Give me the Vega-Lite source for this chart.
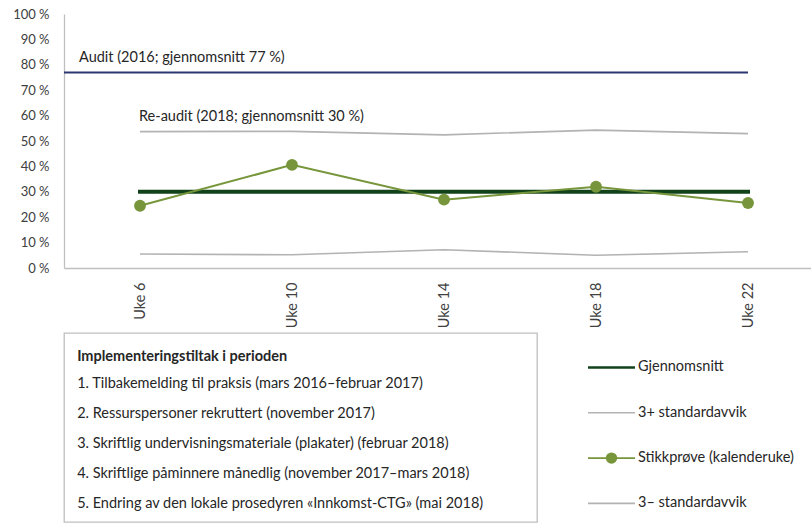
{
  "$schema": "https://vega.github.io/schema/vega-lite/v6.json",
  "padding": {"left": 12, "top": 8, "right": 0, "bottom": 0},
  "spacing": 4,
  "config": {
    "font": "Lato",
    "view": {"stroke": null},
    "axis": {"labelFont": "Lato", "labelFontSize": 13, "labelColor": "#404040", "domainColor": "#bfbfbf", "domainWidth": 1.3, "ticks": false, "tickSize": 0, "grid": false, "title": null},
    "text": {"font": "Lato", "fontSize": 14.5, "color": "#262626"}
  },
  "datasets": {
    "serier": [
      {"serie": "Audit", "uke": 4, "verdi": 77},
      {"serie": "Audit", "uke": 22, "verdi": 77},
      {"serie": "Gjennomsnitt", "uke": 6, "verdi": 30},
      {"serie": "Gjennomsnitt", "uke": 22, "verdi": 30},
      {"serie": "3+ standardavvik", "uke": 6, "verdi": 53.7},
      {"serie": "3+ standardavvik", "uke": 10, "verdi": 53.8},
      {"serie": "3+ standardavvik", "uke": 14, "verdi": 52.4},
      {"serie": "3+ standardavvik", "uke": 18, "verdi": 54.3},
      {"serie": "3+ standardavvik", "uke": 22, "verdi": 52.9},
      {"serie": "3– standardavvik", "uke": 6, "verdi": 5.5},
      {"serie": "3– standardavvik", "uke": 10, "verdi": 5.2},
      {"serie": "3– standardavvik", "uke": 14, "verdi": 7.2},
      {"serie": "3– standardavvik", "uke": 18, "verdi": 5.0},
      {"serie": "3– standardavvik", "uke": 22, "verdi": 6.4},
      {"serie": "Stikkprøve (kalenderuke)", "uke": 6, "verdi": 24.5},
      {"serie": "Stikkprøve (kalenderuke)", "uke": 10, "verdi": 40.6},
      {"serie": "Stikkprøve (kalenderuke)", "uke": 14, "verdi": 26.9},
      {"serie": "Stikkprøve (kalenderuke)", "uke": 18, "verdi": 32.0},
      {"serie": "Stikkprøve (kalenderuke)", "uke": 22, "verdi": 25.6}
    ],
    "tiltak": [
      {"nr": 0, "tekst": "Implementeringstiltak i perioden"},
      {"nr": 1, "tekst": "1. Tilbakemelding til praksis (mars 2016–februar 2017)"},
      {"nr": 2, "tekst": "2. Ressurspersoner rekruttert (november 2017)"},
      {"nr": 3, "tekst": "3. Skriftlig undervisningsmateriale (plakater) (februar 2018)"},
      {"nr": 4, "tekst": "4. Skriftlige påminnere månedlig (november 2017–mars 2018)"},
      {"nr": 5, "tekst": "5. Endring av den lokale prosedyren «Innkomst-CTG» (mai 2018)"}
    ],
    "forklaring": [
      {"nr": 0, "serie": "Gjennomsnitt"},
      {"nr": 1, "serie": "3+ standardavvik"},
      {"nr": 2, "serie": "Stikkprøve (kalenderuke)"},
      {"nr": 3, "serie": "3– standardavvik"}
    ]
  },
  "vconcat": [
    {
      "width": 748,
      "height": 254,
      "data": {"name": "serier"},
      "encoding": {
        "x": {"field": "uke", "type": "quantitative", "scale": {"domain": [4, 23.684], "nice": false, "zero": false}, "axis": {"values": [6, 10, 14, 18, 22], "labelExpr": "'Uke ' + datum.value", "labelAngle": 270, "labelPadding": 14, "labelFontSize": 14.5}},
        "y": {"field": "verdi", "type": "quantitative", "scale": {"domain": [0, 100], "nice": false}, "axis": {"values": [0, 10, 20, 30, 40, 50, 60, 70, 80, 90, 100], "labelExpr": "datum.value + ' %'", "labelPadding": 15}}
      },
      "layer": [
        {"transform": [{"filter": "datum.serie === '3+ standardavvik'"}], "mark": {"type": "line", "color": "#b3b3b3", "strokeWidth": 1.6}},
        {"transform": [{"filter": "datum.serie === '3– standardavvik'"}], "mark": {"type": "line", "color": "#b3b3b3", "strokeWidth": 1.6}},
        {"transform": [{"filter": "datum.serie === 'Audit'"}], "mark": {"type": "line", "color": "#2b3770", "strokeWidth": 2}},
        {"transform": [{"filter": "datum.serie === 'Gjennomsnitt'"}], "mark": {"type": "line", "color": "#12421a", "strokeWidth": 4, "strokeCap": "square"}},
        {"transform": [{"filter": "datum.serie === 'Stikkprøve (kalenderuke)'"}], "mark": {"type": "line", "color": "#77963b", "strokeWidth": 2, "point": {"filled": true, "size": 140, "color": "#77963b", "opacity": 1}}},
        {"transform": [{"filter": "datum.serie === 'Audit' && datum.uke === 4"}], "mark": {"type": "text", "align": "left", "baseline": "middle", "dx": 15, "dy": -14}, "encoding": {"text": {"value": "Audit (2016; gjennomsnitt 77 %)"}}},
        {"transform": [{"filter": "datum.serie === '3+ standardavvik' && datum.uke === 6"}], "mark": {"type": "text", "align": "left", "baseline": "middle", "dx": -1, "dy": -15}, "encoding": {"text": {"value": "Re-audit (2018; gjennomsnitt 30 %)"}}}
      ]
    },
    {
      "spacing": 48,
      "hconcat": [
        {
          "width": 473,
          "height": 189,
          "view": {"stroke": "#bfbfbf", "strokeWidth": 1.3},
          "data": {"name": "tiltak"},
          "encoding": {
            "x": {"datum": 0, "type": "quantitative", "scale": {"domain": [-1, 35], "nice": false, "zero": false}, "axis": null},
            "y": {"field": "nr", "type": "quantitative", "scale": {"domain": [-0.7, 5.6], "reverse": true, "nice": false, "zero": false}, "axis": null},
            "text": {"field": "tekst"}
          },
          "layer": [
            {"transform": [{"filter": "datum.nr === 0"}], "mark": {"type": "text", "align": "left", "baseline": "middle", "fontWeight": "bold", "dy": 3}},
            {"transform": [{"filter": "datum.nr > 0"}], "mark": {"type": "text", "align": "left", "baseline": "middle"}}
          ]
        },
        {
          "width": 228,
          "height": 189,
          "data": {"name": "forklaring"},
          "encoding": {
            "y": {"field": "nr", "type": "quantitative", "scale": {"domain": [-0.76, 3.41], "reverse": true, "nice": false, "zero": false}, "axis": null}
          },
          "layer": [
            {
              "mark": {"type": "rule"},
              "encoding": {
                "x": {"datum": 0, "type": "quantitative", "scale": {"domain": [0, 4.85], "nice": false, "zero": false}, "axis": null},
                "x2": {"datum": 1},
                "color": {"field": "serie", "type": "nominal", "scale": {"domain": ["Gjennomsnitt", "3+ standardavvik", "Stikkprøve (kalenderuke)", "3– standardavvik"], "range": ["#12421a", "#b3b3b3", "#77963b", "#b3b3b3"]}, "legend": null},
                "strokeWidth": {"condition": {"test": "datum.serie === 'Gjennomsnitt'", "value": 2.6}, "value": 1.6}
              }
            },
            {
              "transform": [{"filter": "datum.serie === 'Stikkprøve (kalenderuke)'"}],
              "mark": {"type": "point", "filled": true, "opacity": 1, "size": 130, "color": "#77963b"},
              "encoding": {"x": {"datum": 0.5, "type": "quantitative"}}
            },
            {
              "mark": {"type": "text", "align": "left", "baseline": "middle", "dx": 3},
              "encoding": {"x": {"datum": 1, "type": "quantitative"}, "text": {"field": "serie"}}
            }
          ]
        }
      ]
    }
  ]
}
